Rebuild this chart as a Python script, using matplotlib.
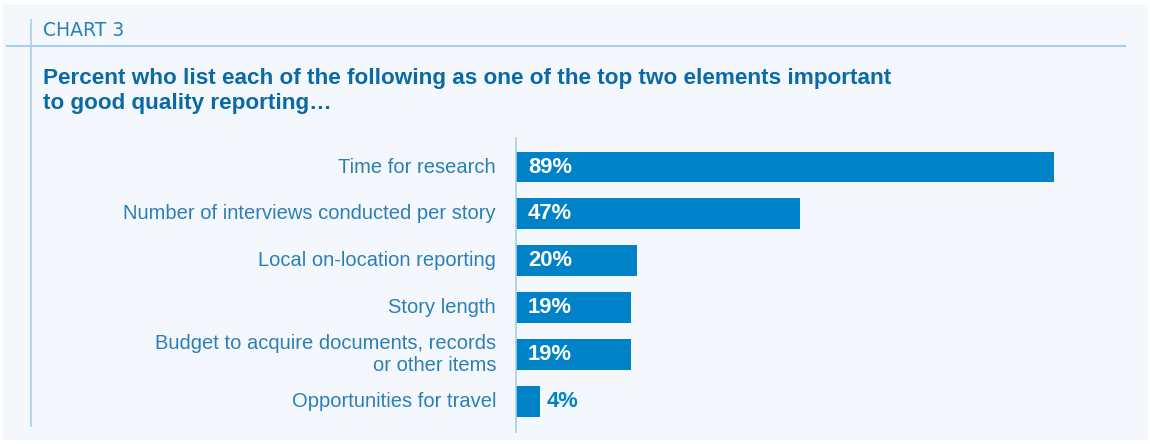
import matplotlib.pyplot as plt
from matplotlib.patches import Rectangle
from matplotlib.lines import Line2D

categories = ["Time for research",
              "Number of interviews conducted per story",
              "Local on-location reporting",
              "Story length",
              "Budget to acquire documents, records\nor other items",
              "Opportunities for travel"]
values = [89, 47, 20, 19, 19, 4]
value_labels = ["89%", "47%", "20%", "19%", "19%", "4%"]

bg = "#f4f8fc"
bar_color = "#0082c8"
text_color = "#2b7fb8"
title_color = "#0a6aa8"
rule_color = "#a9cdea"

plt.rcParams['font.family'] = ['Liberation Sans', 'DejaVu Sans']

W, H = 1150, 444
fig = plt.figure(figsize=(W / 100, H / 100), dpi=100)
fig.patch.set_facecolor("white")

# light panel behind everything
fig.add_artist(Rectangle((3 / W, 1 - 440 / H), 1145 / W, 436 / H,
                         transform=fig.transFigure, facecolor=bg,
                         edgecolor="none", zorder=0))
# header rules
fig.add_artist(Line2D([31 / W, 31 / W], [1 - 20 / H, 1 - 426 / H],
                      transform=fig.transFigure, color=rule_color, lw=1.2))
fig.add_artist(Line2D([7 / W, 1125 / W], [1 - 46 / H, 1 - 46 / H],
                      transform=fig.transFigure, color=rule_color, lw=1.5))

fig.text(43 / W, 1 - 30 / H, "CHART 3", color=text_color, fontsize=13.5,
         va="center", ha="left", family="DejaVu Sans")
fig.text(43 / W, 1 - 91 / H,
         "Percent who list each of the following as one of the top two elements important\n"
         "to good quality reporting\u2026",
         color=title_color, fontsize=16.2, fontweight="bold", va="center",
         ha="left", linespacing=1.22)

ax = fig.add_axes([516 / W, 1 - 432 / H, 604.5 / W, 294 / H])
ax.set_facecolor("none")
pos = list(range(len(categories)))
ax.barh(pos, values, height=0.66, color=bar_color, zorder=2)
ax.set_xlim(0, 100)
ax.set_ylim(5.66, -0.62)

for p, v, lab, cat in zip(pos, values, value_labels, categories):
    if v > 8:
        ax.text(2, p, lab, color="white", fontsize=15.8, fontweight="bold",
                va="center", ha="left")
    else:
        ax.text(v + 1, p, lab, color=bar_color, fontsize=15.8,
                fontweight="bold", va="center", ha="left")
    ax.text(-3.3, p, cat, color=text_color, fontsize=14.5, va="center",
            ha="right", linespacing=1.2)

ax.set_xticks([])
ax.set_yticks([])
for s in ["top", "right", "bottom"]:
    ax.spines[s].set_visible(False)
ax.spines["left"].set_color(rule_color)
ax.spines["left"].set_linewidth(1.2)

fig.savefig("out.png", dpi=100, facecolor=fig.get_facecolor())
